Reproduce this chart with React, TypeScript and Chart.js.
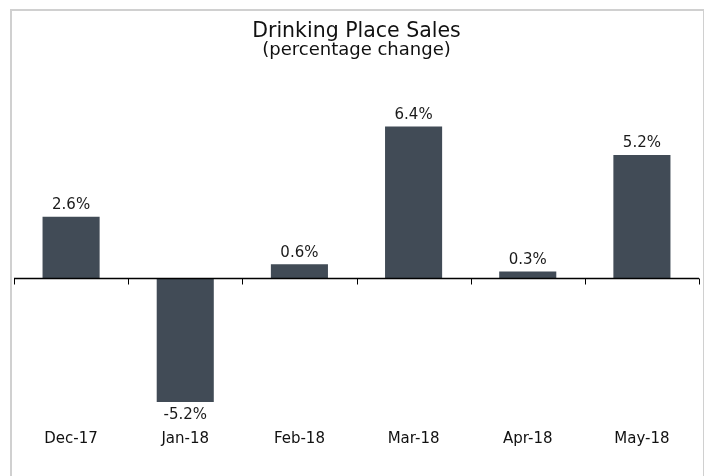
import React, { useEffect, useRef } from "react";
import { Chart, registerables } from "chart.js";

Chart.register(...registerables);

const categories = ["Dec-17", "Jan-18", "Feb-18", "Mar-18", "Apr-18", "May-18"];
const values = [2.6, -5.2, 0.6, 6.4, 0.3, 5.2];
const titleText = "Drinking Place Sales";
const subtitleText = "(percentage change)";

const FONT = "'DejaVu Sans', Verdana, sans-serif";

const labelPlugin = {
  id: "valueLabels",
  afterDatasetsDraw(chart: any) {
    const { ctx, chartArea, scales } = chart;
    const meta = chart.getDatasetMeta(0);
    const y0 = scales.y.getPixelForValue(0);
    // zero line
    ctx.save();
    ctx.strokeStyle = "#000";
    ctx.lineWidth = 1.5;
    ctx.beginPath();
    ctx.moveTo(chartArea.left, y0);
    ctx.lineTo(chartArea.right, y0);
    ctx.stroke();
    // tick marks at category boundaries
    ctx.lineWidth = 1;
    const n = categories.length;
    const w = (chartArea.right - chartArea.left) / n;
    for (let i = 0; i <= n; i++) {
      const x = Math.round(chartArea.left + i * w) + 0.5;
      ctx.beginPath();
      ctx.moveTo(x, y0);
      ctx.lineTo(x, y0 + 6);
      ctx.stroke();
    }
    // value labels
    ctx.fillStyle = "#1a1a1a";
    ctx.font = `15px ${FONT}`;
    ctx.textAlign = "center";
    meta.data.forEach((bar: any, i: number) => {
      const v = values[i];
      const txt = v.toFixed(1) + "%";
      if (v >= 0) {
        ctx.textBaseline = "bottom";
        ctx.fillText(txt, bar.x, bar.y - 4);
      } else {
        ctx.textBaseline = "top";
        ctx.fillText(txt, bar.x, bar.y + 6);
      }
    });
    ctx.restore();
  },
};

export default function App() {
  const ref = useRef<HTMLCanvasElement>(null);
  useEffect(() => {
    if (!ref.current) return;
    const chart = new Chart(ref.current, {
      type: "bar",
      data: {
        labels: categories,
        datasets: [
          {
            data: values,
            backgroundColor: "#414b56",
            barPercentage: 0.5,
            categoryPercentage: 1,
          },
        ],
      },
      options: {
        animation: false,
        responsive: false,
        maintainAspectRatio: false,
        layout: { padding: { left: 2, right: 4, top: 0, bottom: 19 } },
        plugins: {
          legend: { display: false },
          tooltip: { enabled: false },
          title: {
            display: true,
            text: titleText,
            color: "#111",
            font: { family: FONT, size: 20.5, weight: "normal", lineHeight: 1.0 },
            padding: { top: 10, bottom: 0 },
          },
          subtitle: {
            display: true,
            text: subtitleText,
            color: "#111",
            font: { family: FONT, size: 18, weight: "normal", lineHeight: 1.0 },
            padding: { top: 0, bottom: 29 },
          },
        },
        scales: {
          x: {
            grid: { display: false, drawTicks: false },
            border: { display: false },
            ticks: {
              color: "#111",
              padding: 9,
              font: { family: FONT, size: 15 },
            },
          },
          y: {
            display: false,
            min: -6,
            max: 8,
          },
        },
      },
      plugins: [labelPlugin],
    });
    return () => chart.destroy();
  }, []);
  return (
    <div
      style={{
        marginLeft: 2,
        marginTop: 1,
        width: 691,
        height: 480,
        border: "2px solid #d0d0d0",
        background: "#fff",
      }}
    >
      <canvas ref={ref} width={691} height={465} style={{ display: "block" }} />
    </div>
  );
}
